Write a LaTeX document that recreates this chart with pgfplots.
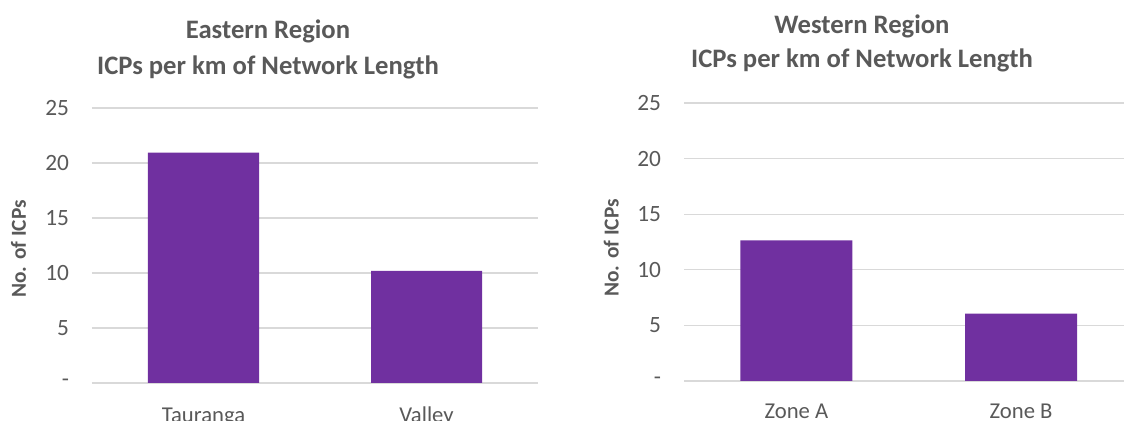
\documentclass[border=0pt]{standalone}
\usepackage{pgfplots}
\pgfplotsset{compat=1.18}
\usepackage{fontspec}
\setmainfont{Carlito}
\definecolor{txt}{HTML}{595959}
\definecolor{gridc}{HTML}{D9D9D9}
\definecolor{barc}{HTML}{7030A0}
\pgfplotsset{
  regionstyle/.style={
    scale only axis,
    ybar, bar shift=0pt,
    ymin=0, ymax=25,
    ytick={0,5,10,15,20,25},
    yticklabels={-,5,10,15,20,25},
    xtick={0,1},
    axis line style={draw=none},
    tick style={draw=none},
    ymajorgrids,
    grid style={color=gridc, line width=0.9pt},
    /pgf/number format/assume math mode=true,
    yticklabel style={font=\fontsize{17.5}{20}\selectfont, color=txt, anchor=east, xshift=-13.7pt},
    xticklabel style={font=\fontsize{17}{20}\selectfont, color=txt, anchor=base, yshift=-25pt},
    ylabel={No. of ICPs},
  }
}
\begin{document}
\begin{tikzpicture}
\useasboundingbox (0,0) rectangle (843pt,315.75pt);
% Left panel
\begin{axis}[regionstyle,
  at={(69pt,28.5pt)}, anchor=south west,
  width=334.5pt, height=206.25pt,
  xmin=-0.5, xmax=1.5,
  bar width=83.25pt,
  xticklabels={Tauranga,Valley},
  every axis y label/.style={at={(rel axis cs:0,0.5)}, xshift=-55pt, yshift=-2.6pt, rotate=90, anchor=center,
      font=\bfseries\fontsize{16}{19}\selectfont, color=txt},
]
\addplot[fill=barc, draw=none] coordinates {(0,20.95) (1,10.2)};
\end{axis}
% Right panel
\begin{axis}[regionstyle,
  at={(513pt,30pt)}, anchor=south west,
  width=330pt, height=208.5pt,
  xmin=-0.5, xmax=1.458,
  bar width=84pt,
  xticklabels={Zone A,Zone B},
  xticklabel style={yshift=1.5pt},
  every axis y label/.style={at={(rel axis cs:0,0.5)}, xshift=-54.5pt, yshift=-4.5pt, rotate=90, anchor=center,
      font=\bfseries\fontsize{16}{19}\selectfont, color=txt},
]
\addplot[fill=barc, draw=none] coordinates {(0,12.65) (1,6.05)};
\end{axis}
% Titles
\node[anchor=base, font=\bfseries\fontsize{20}{24}\selectfont, text=txt] at (201pt,286.5pt) {Eastern Region};
\node[anchor=base, font=\bfseries\fontsize{20}{24}\selectfont, text=txt] at (201pt,259.5pt) {ICPs per km of Network Length};
\node[anchor=base, font=\bfseries\fontsize{20}{24}\selectfont, text=txt] at (646.5pt,290.25pt) {Western Region};
\node[anchor=base, font=\bfseries\fontsize{20}{24}\selectfont, text=txt] at (646.5pt,264.75pt) {ICPs per km of Network Length};
\end{tikzpicture}
\end{document}
